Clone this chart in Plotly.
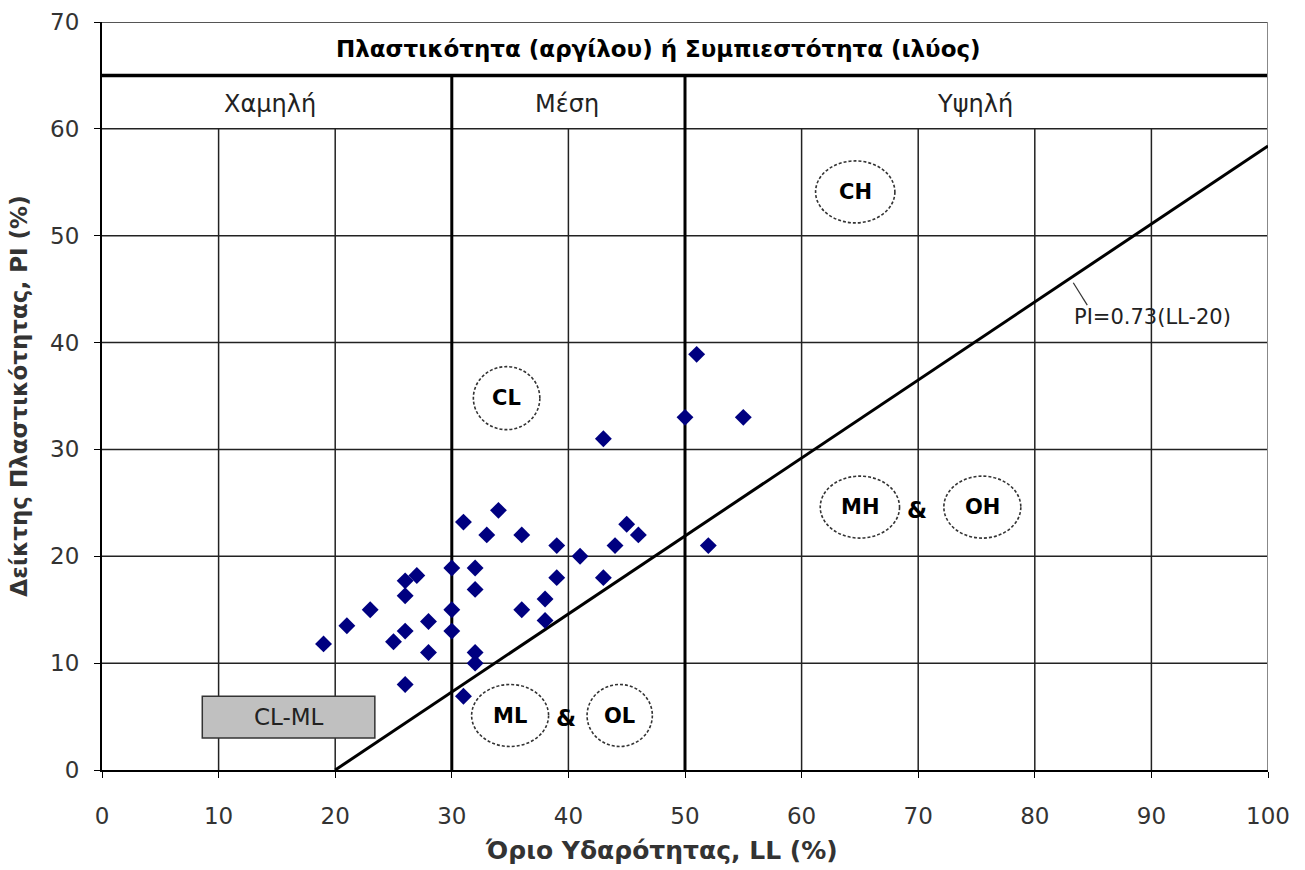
import plotly.graph_objects as go

# Data
ll_values = [19, 21, 23, 25, 26, 26, 26, 27, 26, 28, 28, 30, 30, 30, 31, 32, 32, 32, 32,
             31, 34, 33, 36, 36, 39, 39, 38, 38, 41, 43, 44, 43, 45, 46, 50, 51, 55, 52]
pi_values = [11.8, 13.5, 15.0, 12.0, 13.0, 16.3, 17.7, 18.2, 8.0, 13.9, 11.0, 18.9, 15.0, 13.0,
             6.9, 18.9, 16.9, 11.0, 10.0, 23.2, 24.3, 22.0, 22.0, 15.0, 21.0, 18.0, 16.0, 14.0,
             20.0, 18.0, 21.0, 31.0, 23.0, 22.0, 33.0, 38.9, 33.0, 21.0]

a_line_ll = [20, 100]
a_line_coef = 0.73
x_ticks = list(range(0, 101, 10))
y_ticks = list(range(0, 71, 10))

header_title = "Πλαστικότητα (αργίλου) ή Συμπιεστότητα (ιλύος)"
band_labels = ["Χαμηλή", "Μέση", "Υψηλή"]
band_label_x = [14.4, 39.9, 74.9]
zone_labels = ["CL", "CH", "ML", "OL", "MH", "OH"]
zone_x = [34.7, 64.6, 35.0, 44.4, 65.0, 75.5]
zone_y = [34.8, 54.1, 5.1, 5.1, 24.6, 24.6]
zone_rx = [2.85, 3.4, 3.3, 2.8, 3.4, 3.3]
zone_ry = [2.95, 2.9, 2.9, 2.9, 2.9, 2.9]

FONT = "DejaVu Sans"

fig = go.Figure()

# A-line
a_line_pi = [a_line_coef * (v - 20) for v in a_line_ll]
fig.add_trace(go.Scatter(x=a_line_ll, y=a_line_pi, mode="lines",
                         line=dict(color="black", width=3), hoverinfo="skip",
                         showlegend=False))

# Data points
fig.add_trace(go.Scatter(x=ll_values, y=pi_values, mode="markers",
                         marker=dict(symbol="diamond", size=13, color="#000080"),
                         showlegend=False))

shapes = []
thin = dict(color="#222222", width=1.5)
# vertical gridlines (below 60)
for xv in [10, 20, 40, 60, 70, 80, 90]:
    shapes.append(dict(type="line", x0=xv, x1=xv, y0=0, y1=60, line=thin, layer="below"))
# horizontal gridlines
for yv in [10, 20, 30, 40, 50, 60]:
    shapes.append(dict(type="line", x0=0, x1=100, y0=yv, y1=yv, line=thin, layer="below"))
# thick boundaries
for xv in [30, 50]:
    shapes.append(dict(type="line", x0=xv, x1=xv, y0=0, y1=65,
                       line=dict(color="black", width=3), layer="below"))
shapes.append(dict(type="line", x0=0, x1=100, y0=65, y1=65,
                   line=dict(color="black", width=3.5), layer="below"))
# outer frame top and right
shapes.append(dict(type="line", x0=0, x1=100, y0=70, y1=70,
                   line=dict(color="#555555", width=2), layer="below"))
shapes.append(dict(type="line", x0=100, x1=100, y0=0, y1=70,
                   line=dict(color="#888888", width=2), layer="below"))
# CL-ML box
shapes.append(dict(type="rect", x0=8.6, x1=23.4, y0=3.0, y1=6.9,
                   fillcolor="#c0c0c0", line=dict(color="#333333", width=1.5), layer="above"))
# zone ellipses
for zx, zy, rx, ry in zip(zone_x, zone_y, zone_rx, zone_ry):
    shapes.append(dict(type="circle", x0=zx - rx, x1=zx + rx, y0=zy - ry, y1=zy + ry,
                       fillcolor="white", line=dict(color="#333333", width=1.6, dash="3px,2px"),
                       layer="above"))
# leader line for A-line label
shapes.append(dict(type="line", x0=83.3, x1=84.5, y0=45.6, y1=43.5,
                   line=dict(color="#333333", width=1.2)))

annotations = []
annotations.append(dict(x=47.7, y=67.5, text="<b>" + header_title + "</b>", showarrow=False,
                        font=dict(family=FONT, size=23, color="black")))
for lbl, lx in zip(band_labels, band_label_x):
    annotations.append(dict(x=lx, y=62.3, text=lbl, showarrow=False,
                            font=dict(family=FONT, size=24, color="#222222")))
for lbl, zx, zy in zip(zone_labels, zone_x, zone_y):
    annotations.append(dict(x=zx, y=zy, text="<b>" + lbl + "</b>", showarrow=False,
                            font=dict(family=FONT, size=21, color="black")))
annotations.append(dict(x=39.8, y=4.9, text="<b>&</b>", showarrow=False,
                        font=dict(family=FONT, size=23, color="black")))
annotations.append(dict(x=69.9, y=24.3, text="<b>&</b>", showarrow=False,
                        font=dict(family=FONT, size=23, color="black")))
annotations.append(dict(x=16.0, y=4.95, text="CL-ML", showarrow=False,
                        font=dict(family=FONT, size=23, color="#222222")))
annotations.append(dict(x=83.2, y=42.4, text="PI=0.73(LL-20)", showarrow=False,
                        xanchor="left", font=dict(family=FONT, size=21, color="#222222")))
# x-axis title (placed as annotation to match the reference's slight left offset)
annotations.append(dict(xref="paper", yref="paper", x=0.48, y=-0.107, yanchor="middle",
                        text="<b>Όριο Υδαρότητας, LL (%)</b>", showarrow=False,
                        font=dict(family=FONT, size=25, color="#333333")))

fig.update_layout(
    width=1305, height=870,
    margin=dict(l=102, r=37, t=22, b=100),
    plot_bgcolor="white", paper_bgcolor="white",
    shapes=shapes, annotations=annotations,
    xaxis=dict(range=[0, 100], tickvals=x_ticks, showgrid=False, zeroline=False,
               showline=True, linecolor="black", linewidth=2, automargin=False,
               ticks="outside", ticklen=6, tickcolor="black", ticklabelstandoff=18,
               tickfont=dict(family=FONT, size=23, color="#333333")),
    yaxis=dict(range=[0, 70], tickvals=y_ticks, showgrid=False, zeroline=False,
               showline=True, linecolor="black", linewidth=2, automargin=False,
               ticks="outside", ticklen=6, tickcolor="black", ticklabelstandoff=10,
               tickfont=dict(family=FONT, size=23, color="#333333"),
               title=dict(text="<b>Δείκτης Πλαστικότητας, PI (%)</b>", standoff=16,
                          font=dict(family=FONT, size=23, color="#333333"))),
)

fig.write_html("out.html")
